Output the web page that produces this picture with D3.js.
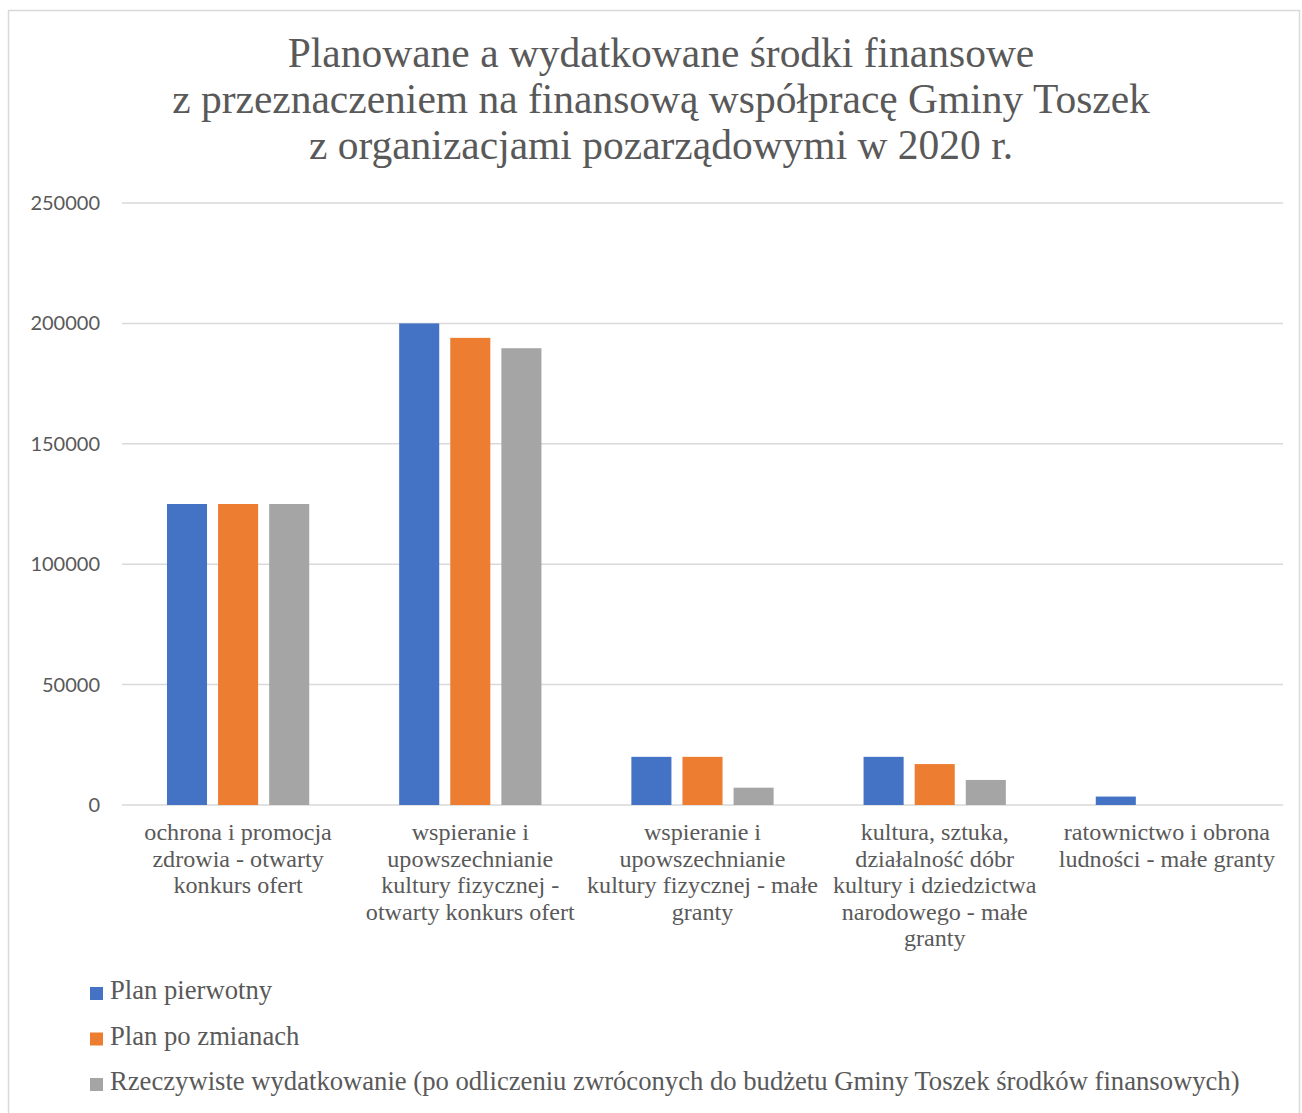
<!DOCTYPE html>
<html><head><meta charset="utf-8">
<script src="https://cdn.jsdelivr.net/npm/d3@7"></script>
<style>body{margin:0;background:#fff}svg{display:block}</style>
</head><body>
<svg id="c" width="1302" height="1113"></svg>
<script>
const titleLines = ["Planowane a wydatkowane środki finansowe","z przeznaczeniem na finansową współpracę Gminy Toszek","z organizacjami pozarządowymi w 2020 r."];
const categories = [
  ["ochrona i promocja","zdrowia - otwarty","konkurs ofert"],
  ["wspieranie i","upowszechnianie","kultury fizycznej -","otwarty konkurs ofert"],
  ["wspieranie i","upowszechnianie","kultury fizycznej - małe","granty"],
  ["kultura, sztuka,","działalność dóbr","kultury i dziedzictwa","narodowego - małe","granty"],
  ["ratownictwo i obrona","ludności - małe granty"]
];
const seriesNames = ["Plan pierwotny","Plan po zmianach","Rzeczywiste wydatkowanie (po odliczeniu zwróconych do budżetu Gminy Toszek środków finansowych)"];
const planPierwotny = [125000, 200000, 20000, 20000, 3500];
const planPoZmianach = [125000, 194000, 20000, 17000, 0];
const rzeczywiste = [125000, 189700, 7200, 10400, 0];
const yTicks = [0, 50000, 100000, 150000, 200000, 250000];
const colors = ["#4472c4","#ed7d31","#a5a5a5"];

const series = [planPierwotny, planPoZmianach, rzeczywiste];
const svg = d3.select("#c");
const serif = "'Liberation Serif', serif";
const textCol = "#595959";

svg.append("rect").attr("x",8.5).attr("y",10.5).attr("width",1291).attr("height",1110)
  .attr("fill","#fff").attr("stroke","#d9d9d9").attr("stroke-width",1.5);

function fit(sel, target){
  const w = sel.node().getComputedTextLength();
  const fs = parseFloat(sel.attr("font-size"));
  return fs * target / w;
}

// title
const tg = svg.append("g");
const tMeasure = tg.append("text").attr("font-family",serif).attr("font-size",32).text(titleLines[1]);
const tfs = fit(tMeasure, 978);
tMeasure.remove();
titleLines.forEach((l,i)=>{
  tg.append("text").attr("x",661).attr("y",67+i*46).attr("text-anchor","middle")
    .attr("font-family",serif).attr("font-size",tfs).attr("fill",textCol).text(l);
});

const x = d3.scaleBand().domain(d3.range(categories.length)).range([122,1283]).padding(0);
const xs = d3.scaleBand().domain(d3.range(3)).range([0, x.bandwidth()]).paddingInner(0.216).paddingOuter(0.88);
const y = d3.scaleLinear().domain([0,250000]).range([805,203]);

const grid = svg.append("g");
grid.selectAll("line").data(yTicks).join("line")
  .attr("x1",122).attr("x2",1283).attr("y1",d=>y(d)).attr("y2",d=>y(d))
  .attr("stroke","#d9d9d9").attr("stroke-width",1.5);

const yAxis = d3.axisLeft(y).tickValues(yTicks).tickFormat(d3.format("d")).tickSize(0).tickPadding(0);
const ya = svg.append("g").attr("transform","translate(100,0)").call(yAxis);
ya.select(".domain").remove();
ya.selectAll("text").attr("font-family","Lato, sans-serif").attr("font-size",20).attr("fill",textCol);

series.forEach((vals,si)=>{
  svg.append("g").selectAll("rect").data(vals).join("rect")
    .attr("x",(d,i)=>x(i)+xs(si)).attr("width",xs.bandwidth())
    .attr("y",d=>y(d)).attr("height",d=>y(0)-y(d))
    .attr("fill",colors[si]);
});

// category labels
const cm = svg.append("text").attr("font-family",serif).attr("font-size",19).text("otwarty konkurs ofert");
const cfs = fit(cm, 209);
cm.remove();
categories.forEach((lines,i)=>{
  const t = svg.append("text").attr("font-family",serif).attr("font-size",cfs).attr("fill",textCol)
    .attr("text-anchor","middle");
  lines.forEach((l,j)=>{
    t.append("tspan").attr("x",x(i)+x.bandwidth()/2).attr("y",840+j*26.6).text(l);
  });
});

// legend
const lm = svg.append("text").attr("font-family",serif).attr("font-size",22).text(seriesNames[2]);
const lfs = fit(lm, 1130);
lm.remove();
seriesNames.forEach((n,i)=>{
  const yy = 999 + i*45.5;
  svg.append("rect").attr("x",90).attr("y",yy-12).attr("width",13).attr("height",13).attr("fill",colors[i]);
  svg.append("text").attr("x",110).attr("y",yy).attr("font-family",serif).attr("font-size",lfs)
    .attr("fill",textCol).text(n);
});
</script>
</body></html>
